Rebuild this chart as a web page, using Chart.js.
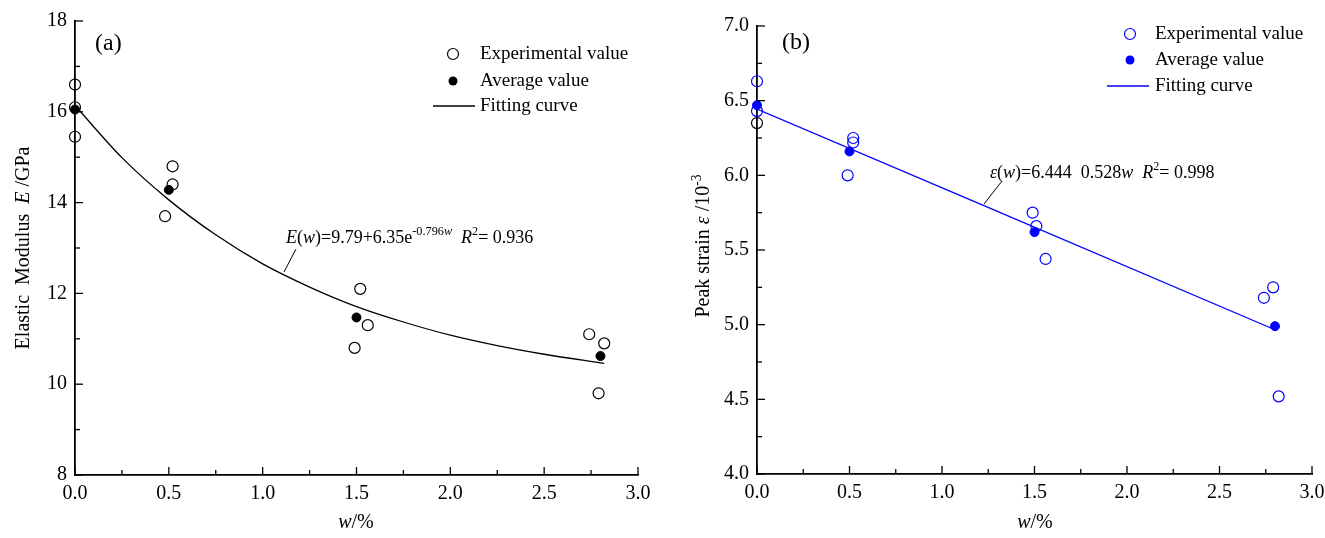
<!DOCTYPE html>
<html><head><meta charset="utf-8">
<script src="https://cdn.jsdelivr.net/npm/chart.js@4/dist/chart.umd.min.js"></script>
<style>
html,body{margin:0;padding:0;background:#fff;width:1325px;height:538px;overflow:hidden;position:relative}
.box{position:absolute;top:0;height:538px;width:680px}
</style></head><body>
<div class="box" style="left:0px"><canvas id="c1"></canvas></div>
<div class="box" style="left:660px"><canvas id="c2"></canvas></div>
<script>
// ---------- data (a) Elastic modulus ----------
const aExpW = [0, 0, 0, 0.52, 0.52, 0.48, 1.52, 1.56, 1.49, 2.74, 2.82, 2.79];
const aExpE = [16.6, 16.1, 15.45, 14.8, 14.4, 13.7, 12.1, 11.3, 10.8, 11.1, 10.9, 9.8];
const aAvgW = [0, 0.5, 1.5, 2.8];
const aAvgE = [16.05, 14.28, 11.47, 10.62];
const aFitW = [0, 0.25, 0.5, 0.75, 1.0, 1.25, 1.5, 1.75, 2.0, 2.25, 2.5, 2.82];
const aFitE = [16.14, 14.99, 14.06, 13.29, 12.65, 12.14, 11.71, 11.37, 11.08, 10.85, 10.66, 10.46];
// ---------- data (b) Peak strain ----------
const bExpW = [0, 0, 0, 0.52, 0.52, 0.49, 1.49, 1.51, 1.56, 2.74, 2.79, 2.82];
const bExpS = [6.63, 6.43, 6.35, 6.25, 6.22, 6.0, 5.75, 5.66, 5.44, 5.18, 5.25, 4.52];
const bAvgW = [0, 0.5, 1.5, 2.8];
const bAvgS = [6.47, 6.16, 5.62, 4.99];
const bFitW = [0, 2.8];
const bFitS = [6.444, 4.966];
// ---------- ticks ----------
const xRange = [0, 3], xMajor = 0.5, xMinor = 0.25;
const aYRange = [8, 18], aYMajor = 2, aYMinor = 1;
const bYRange = [4, 7], bYMajor = 0.5, bYMinor = 0.25;

const FONT = "'Liberation Serif','Times New Roman',Times,serif";
function fnt(size, it){ return (it ? 'italic ' : '') + size + 'px ' + FONT; }
function richWidth(ctx, parts, size){
  let w = 0;
  for (const p of parts){ ctx.font = fnt(p.s ? size*0.68 : size, p.i); w += ctx.measureText(p.t).width; }
  return w;
}
function drawRich(ctx, x, y, parts, size, align){
  let cx = align === 'center' ? x - richWidth(ctx, parts, size)/2 : x;
  ctx.textAlign = 'left'; ctx.textBaseline = 'alphabetic';
  for (const p of parts){
    const sz = p.s ? size*0.68 : size;
    ctx.font = fnt(sz, p.i);
    ctx.fillText(p.t, cx, y + (p.s ? -size*0.42 : 0));
    cx += ctx.measureText(p.t).width;
  }
}
function pts(xs, ys){ return xs.map((v,i)=>({x:v, y:ys[i]})); }

const decor = {
  id:'decor',
  afterDraw(chart){
    const o = chart.options.plugins.decor; if(!o) return;
    const ctx = chart.ctx, xs = chart.scales.x, ys = chart.scales.y;
    ctx.save();
    ctx.strokeStyle = '#000'; ctx.fillStyle = '#000'; ctx.lineWidth = 1.3;
    const isMaj = (v, m) => Math.abs(v/m - Math.round(v/m)) < 1e-6;
    for (let v = xs.min; v <= xs.max + 1e-9; v += o.xMinor){
      const px = xs.getPixelForValue(v), L = isMaj(v, o.xMajor) ? 8 : 5;
      ctx.beginPath(); ctx.moveTo(px, ys.bottom); ctx.lineTo(px, ys.bottom - L); ctx.stroke();
    }
    for (let v = ys.min; v <= ys.max + 1e-9; v += o.yMinor){
      const py = ys.getPixelForValue(v), L = isMaj(v, o.yMajor) ? 8 : 5;
      ctx.beginPath(); ctx.moveTo(xs.left, py); ctx.lineTo(xs.left + L, py); ctx.stroke();
    }
    ctx.font = fnt(24, false); ctx.textAlign = 'left'; ctx.textBaseline = 'alphabetic';
    ctx.fillText(o.panel[0], o.panel[1], o.panel[2]);
    drawRich(ctx, o.eq.x, o.eq.y, o.eq.parts, 18, 'left');
    ctx.strokeStyle = '#000'; ctx.lineWidth = 1;
    ctx.beginPath(); ctx.moveTo(o.eq.lead[0], o.eq.lead[1]); ctx.lineTo(o.eq.lead[2], o.eq.lead[3]); ctx.stroke();
    const lg = o.legend, c = o.color;
    ctx.font = fnt(19, false); ctx.textBaseline = 'middle'; ctx.fillStyle = '#000';
    ctx.fillText('Experimental value', lg.tx, lg.y[0]);
    ctx.fillText('Average value', lg.tx, lg.y[1]);
    ctx.fillText('Fitting curve', lg.tx, lg.y[2]);
    ctx.strokeStyle = c; ctx.lineWidth = 1.2;
    ctx.beginPath(); ctx.arc(lg.mx, lg.y[0], 5.5, 0, Math.PI*2); ctx.stroke();
    ctx.fillStyle = c;
    ctx.beginPath(); ctx.arc(lg.mx, lg.y[1], 4.5, 0, Math.PI*2); ctx.fill();
    ctx.lineWidth = 1.3;
    ctx.beginPath(); ctx.moveTo(lg.l0, lg.y[2]); ctx.lineTo(lg.l1, lg.y[2]); ctx.stroke();
    ctx.fillStyle = '#000';
    drawRich(ctx, o.xt.x, o.xt.y, o.xt.parts, 20, 'center');
    ctx.translate(o.yt.x, o.yt.y); ctx.rotate(-Math.PI/2);
    drawRich(ctx, 0, 0, o.yt.parts, 20, 'center');
    ctx.restore();
  }
};
Chart.register(decor);

function build(id, cfg){
  const tickFont = {family: FONT, size: 20};
  new Chart(document.getElementById(id), {
    type: 'scatter',
    data: { datasets: [
      {data: pts(cfg.avgW, cfg.avgV), pointRadius: 4.5, pointBackgroundColor: cfg.color, pointBorderColor: cfg.color, pointBorderWidth: 1, showLine: false, clip: false},
      {data: pts(cfg.expW, cfg.expV), pointRadius: 5.5, pointBackgroundColor: 'rgba(0,0,0,0)', pointBorderColor: cfg.expBorder, pointBorderWidth: 1.2, showLine: false, clip: false},
      {data: pts(cfg.fitW, cfg.fitV), showLine: true, pointRadius: 0, borderColor: cfg.color, borderWidth: 1.3, tension: 0.4, cubicInterpolationMode: 'monotone', fill: false}
    ]},
    options: {
      responsive: true, maintainAspectRatio: false, animation: false,
      layout: {padding: cfg.pad},
      plugins: {legend: {display: false}, tooltip: {enabled: false}, decor: cfg.decor},
      scales: {
        x: {type: 'linear', min: xRange[0], max: xRange[1],
            afterFit(s){ s.height = cfg.xH; },
            grid: {display: false, drawTicks: false},
            border: {display: true, color: '#000', width: 1.8},
            ticks: {stepSize: xMajor, color: '#000', font: tickFont, padding: 7, autoSkip: false, maxRotation: 0, callback: v => Number(v).toFixed(1)}},
        y: {type: 'linear', min: cfg.yRange[0], max: cfg.yRange[1],
            afterFit(s){ s.width = cfg.yW; },
            grid: {display: false, drawTicks: false},
            border: {display: true, color: '#000', width: 1.8},
            ticks: {stepSize: cfg.yMajor, color: '#000', font: tickFont, padding: 8, autoSkip: false, callback: cfg.yFmt}}
      }
    }
  });
}

build('c1', {
  color: '#000', expBorder: '#000',
  expW: aExpW, expV: aExpE, avgW: aAvgW, avgV: aAvgE, fitW: aFitW, fitV: aFitE,
  yRange: aYRange, yMajor: aYMajor, yFmt: v => String(Math.round(v)),
  pad: {left: 0, right: 42, top: 21, bottom: 0}, xH: 63, yW: 75,
  decor: {
    xMajor: xMajor, xMinor: xMinor, yMajor: aYMajor, yMinor: aYMinor, color: '#000',
    panel: ['(a)', 95, 50],
    eq: {x: 286, y: 243, lead: [296, 249, 284, 272], parts: [
      {t:'E', i:true}, {t:'('}, {t:'w', i:true}, {t:')=9.79+6.35e'}, {t:'-0.796', s:true}, {t:'w', s:true, i:true},
      {t:'  '}, {t:'R', i:true}, {t:'2', s:true}, {t:'= 0.936'}]},
    legend: {mx: 453, tx: 480, y: [54, 81, 106], l0: 433, l1: 475},
    xt: {x: 356, y: 528, parts: [{t:'w', i:true}, {t:'/%'}]},
    yt: {x: 29, y: 248, parts: [{t:'Elastic  Modulus  '}, {t:'E', i:true}, {t:' /GPa'}]}
  }
});

build('c2', {
  color: '#0000ff', expBorder: ['#0000ff','#0000ff','#000000','#0000ff','#0000ff','#0000ff','#0000ff','#0000ff','#0000ff','#0000ff','#0000ff','#0000ff'],
  expW: bExpW, expV: bExpS, avgW: bAvgW, avgV: bAvgS, fitW: bFitW, fitV: bFitS,
  yRange: bYRange, yMajor: bYMajor, yFmt: v => Number(v).toFixed(1),
  pad: {left: 0, right: 28, top: 26, bottom: 0}, xH: 64, yW: 97,
  decor: {
    xMajor: xMajor, xMinor: xMinor, yMajor: bYMajor, yMinor: bYMinor, color: '#0000ff',
    panel: ['(b)', 122, 49],
    eq: {x: 330, y: 178, lead: [342, 181, 324, 204], parts: [
      {t:'ε', i:true}, {t:'('}, {t:'w', i:true}, {t:')=6.444  0.528'}, {t:'w', i:true},
      {t:'  '}, {t:'R', i:true}, {t:'2', s:true}, {t:'= 0.998'}]},
    legend: {mx: 470, tx: 495, y: [34, 60, 86], l0: 447, l1: 489},
    xt: {x: 375, y: 528, parts: [{t:'w', i:true}, {t:'/%'}]},
    yt: {x: 49, y: 246, parts: [{t:'Peak strain '}, {t:'ε', i:true}, {t:' /10'}, {t:'-3', s:true}]}
  }
});
</script>
</body></html>
